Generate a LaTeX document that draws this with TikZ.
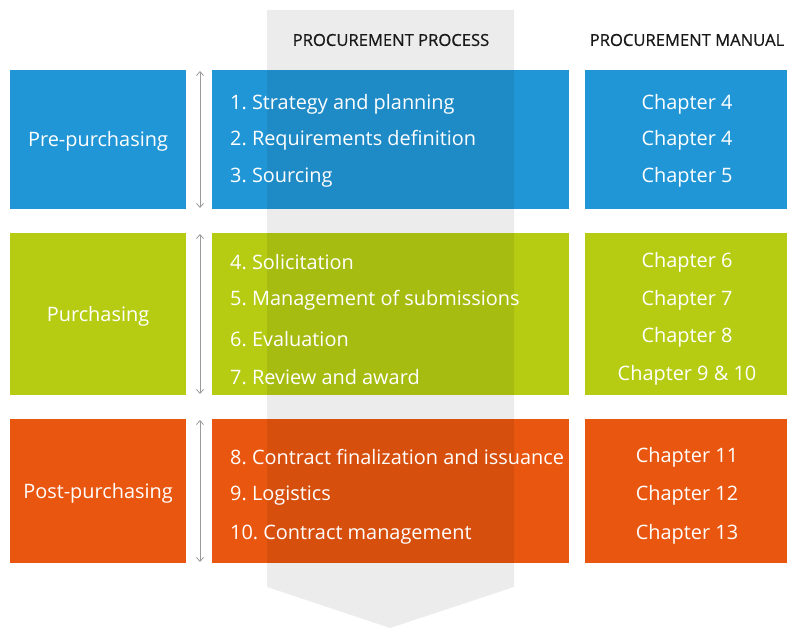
\documentclass[tikz,border=0pt]{standalone}
\usepackage{fontspec}
\setmainfont{Open Sans}
\newfontfamily\headfont[FakeBold=0.7]{Open Sans}
\usetikzlibrary{arrows.meta}
\definecolor{cblue}{HTML}{2196D6}
\definecolor{cgreen}{HTML}{B5CC12}
\definecolor{corange}{HTML}{E9560F}
\definecolor{cgray}{HTML}{9A9A9A}
\tikzset{
  itemtxt/.style={anchor=west, text=white, font=\fontsize{19.9}{23}\selectfont, inner sep=0pt, yshift=-2.5pt},
  chtxt/.style={anchor=center, text=white, font=\fontsize{19.9}{23}\selectfont, inner sep=0pt, yshift=-2.5pt},
  phasetxt/.style={anchor=center, text=white, font=\fontsize{19.9}{23}\selectfont, inner sep=0pt, yshift=-2.5pt},
  headtxt/.style={anchor=center, text=black!90, font=\headfont\fontsize{16.6}{19}\selectfont, inner sep=0pt},
  span/.style={draw=cgray, line width=0.8pt, {Straight Barb[length=4pt,width=7pt]}-{Straight Barb[length=4pt,width=7pt]}},
}
\frenchspacing
\begin{document}
\begin{tikzpicture}[x=1pt,y=-1pt]
\useasboundingbox (0,0) rectangle (788,628);
% boxes
\fill[cblue] (10,70) rectangle (186,209);
\fill[cblue] (212,70) rectangle (569,209);
\fill[cblue] (585,70) rectangle (787,209);
\fill[cgreen] (10,233) rectangle (186,395);
\fill[cgreen] (212,233) rectangle (569,395);
\fill[cgreen] (585,233) rectangle (787,395);
\fill[corange] (10,419) rectangle (186,563);
\fill[corange] (212,419) rectangle (569,563);
\fill[corange] (585,419) rectangle (787,563);
% gray process arrow
\fill[black, opacity=0.075] (267,10) -- (514,10) -- (514,587) -- (390,628) -- (267,587) -- cycle;
% span arrows
\coordinate (s1a) at (200,71); \coordinate (s1b) at (200,208);
\coordinate (s2a) at (200,234); \coordinate (s2b) at (200,394);
\coordinate (s3a) at (200,420); \coordinate (s3b) at (200,562);
\draw[span] (s1a) -- (s1b);
\draw[span] (s2a) -- (s2b);
\draw[span] (s3a) -- (s3b);
% headings
\node[headtxt] (h1) at (391,40) {PROCUREMENT PROCESS};
\node[headtxt] (h2) at (687,40) {PROCUREMENT MANUAL};
% phases
\node[phasetxt] (p1) at (98,139) {Pre-purchasing};
\node[phasetxt] (p2) at (98,314) {Purchasing};
\node[phasetxt] (p3) at (98,491) {Post-purchasing};
% items
\node[itemtxt] (i1) at (230,102) {1. Strategy and planning};
\node[itemtxt] (i2) at (230,138) {2. Requirements definition};
\node[itemtxt] (i3) at (230,175) {3. Sourcing};
\node[itemtxt] (i4) at (230,260) {4. Solicitation};
\node[itemtxt] (i5) at (230,298) {5. Management of submissions};
\node[itemtxt] (i6) at (230,337) {6. Evaluation};
\node[itemtxt] (i7) at (230,375) {7. Review and award};
\node[itemtxt] (i8) at (230,455) {8. Contract finalization and issuance};
\node[itemtxt] (i9) at (230,493) {9. Logistics};
\node[itemtxt] (i10) at (230,532) {10. Contract management};
% chapters
\node[chtxt] (c1) at (687,102) {Chapter 4};
\node[chtxt] (c2) at (687,138) {Chapter 4};
\node[chtxt] (c3) at (687,175) {Chapter 5};
\node[chtxt] (c4) at (687,260) {Chapter 6};
\node[chtxt] (c5) at (687,298) {Chapter 7};
\node[chtxt] (c6) at (687,335) {Chapter 8};
\node[chtxt] (c7) at (687,373) {Chapter 9 \& 10};
\node[chtxt] (c8) at (687,455) {Chapter 11};
\node[chtxt] (c9) at (687,493) {Chapter 12};
\node[chtxt] (c10) at (687,532) {Chapter 13};
\end{tikzpicture}
\end{document}
